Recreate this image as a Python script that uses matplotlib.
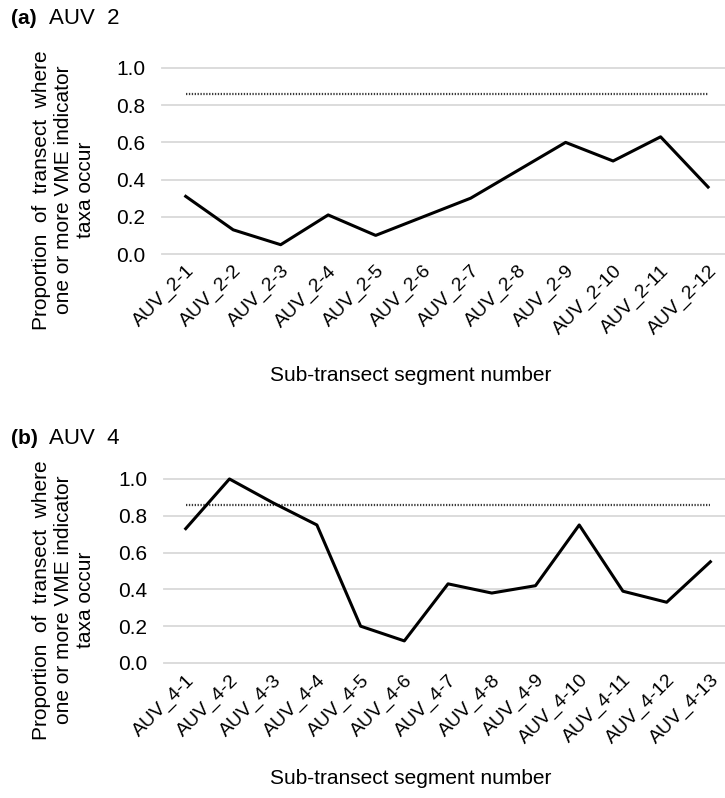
import matplotlib
matplotlib.use("Agg")
import matplotlib.pyplot as plt

plt.rcParams["font.family"] = ["Liberation Sans", "DejaVu Sans"]

# panel (a) AUV 2
labels_a = [f"AUV_2-{i}" for i in range(1, 13)]
values_a = [0.31, 0.13, 0.05, 0.21, 0.10, 0.20, 0.30, 0.45, 0.60, 0.50, 0.63, 0.36]

# panel (b) AUV 4
labels_b = [f"AUV_4-{i}" for i in range(1, 14)]
values_b = [0.73, 1.00, 0.87, 0.75, 0.20, 0.12, 0.43, 0.38, 0.42, 0.75, 0.39, 0.33, 0.55]

threshold = 0.86
yticks = [0.0, 0.2, 0.4, 0.6, 0.8, 1.0]
ylabel = "Proportion  of  transect  where\none or more VME indicator\ntaxa occur"
xlabel = "Sub-transect segment number"

fig = plt.figure(figsize=(7.25, 7.98), dpi=100)

panels = [
    ("(a)", "AUV  2", labels_a, values_a, [0.2234, 0.6817, 0.786, 0.2331], 0.977, 0.762, 0.530),
    ("(b)", "AUV  4", labels_b, values_b, [0.226, 0.1692, 0.784, 0.2306], 0.451, 0.248, 0.025),
]

for tag, name, labels, vals, pos, ty, ly, xly in panels:
    ax = fig.add_axes(pos)
    x = range(len(vals))
    ax.plot(x, vals, color="black", lw=2.2, clip_on=False, zorder=3)
    ax.plot([0, len(vals) - 1], [threshold, threshold], color="#3a3a3a",
            lw=1.6, ls=(0, (0.6, 0.7)), zorder=2)
    ax.set_xlim(-0.5, len(vals) - 0.5)
    ax.set_ylim(0, 1.0)
    ax.set_yticks(yticks)
    ax.set_yticklabels([f"{v:.1f}" for v in yticks], fontsize=15)
    ax.yaxis.grid(True, color="#d9d9d9", lw=1.3)
    ax.set_axisbelow(True)
    ax.set_xticks(list(x))
    ax.set_xticklabels(labels, rotation=45, ha="right", rotation_mode="anchor", fontsize=14)
    ax.tick_params(axis="y", length=0, pad=12)
    ax.tick_params(axis="x", length=0, pad=6)
    for s in ax.spines.values():
        s.set_visible(False)
    for gl in ax.get_ygridlines():
        gl.set_clip_on(False)

    fig.text(0.015, ty, tag, fontsize=15, fontweight="bold", va="center")
    fig.text(0.068, ty, name, fontsize=16, va="center")
    fig.text(0.087, ly, ylabel, rotation=90, fontsize=15, ha="center", va="center",
             multialignment="center", linespacing=1.2)
    fig.text(0.566, xly, xlabel, fontsize=15, ha="center", va="center")

fig.savefig("out.png", dpi=100)
